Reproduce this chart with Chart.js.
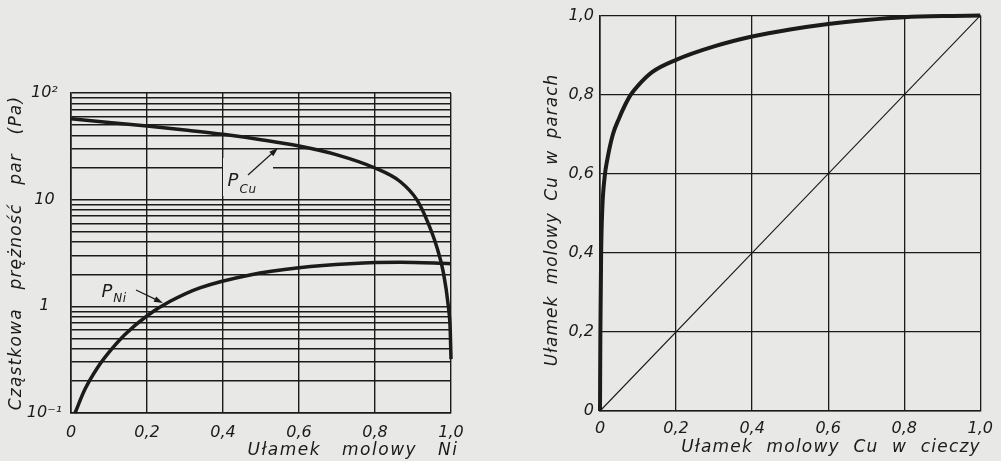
<!DOCTYPE html>
<html>
<head>
<meta charset="utf-8">
<script src="https://cdn.jsdelivr.net/npm/chart.js@4/dist/chart.umd.min.js"></script>
<style>
html, body { margin: 0; padding: 0; background: #e8e8e6; }
#wrap { position: relative; width: 1001px; height: 461px; overflow: hidden; }
#left { position: absolute; left: 0; top: 0; width: 500px; height: 461px; }
#right { position: absolute; left: 500px; top: 0; width: 501px; height: 461px; }
</style>
</head>
<body>
<div id="wrap">
  <canvas id="left" width="500" height="461"></canvas>
  <canvas id="right" width="501" height="461"></canvas>
</div>
<script>
// lewy wykres: cząstkowa prężność par nad stopem Cu-Ni
var xCu = [0, 0.1, 0.2, 0.3, 0.4, 0.5, 0.6, 0.7, 0.8, 0.866, 0.91, 0.936, 0.962, 0.98, 0.993, 0.998, 1.0];
var pCu = [57.5, 53, 49, 45, 41, 36.5, 31.8, 26.3, 19.8, 14.8, 10, 6.5, 3.66, 2.07, 1.0, 0.6, 0.32];
var xNi = [0.0105, 0.037, 0.071, 0.103, 0.142, 0.203, 0.261, 0.339, 0.471, 0.6, 0.734, 0.866, 1.0];
var pNi = [0.1, 0.1675, 0.27, 0.382, 0.545, 0.83, 1.114, 1.49, 1.97, 2.30, 2.51, 2.59, 2.51];

// prawy wykres: skład par w funkcji składu cieczy
var cuLiquid = [0, 0.001, 0.003, 0.006, 0.012, 0.02, 0.034, 0.05, 0.065, 0.081, 0.1, 0.137, 0.2, 0.3, 0.4, 0.5, 0.6, 0.7, 0.8, 0.9, 1.0];
var cuVapour = [0, 0.2, 0.40, 0.51, 0.59, 0.64, 0.70, 0.74, 0.772, 0.80, 0.823, 0.857, 0.888, 0.922, 0.947, 0.965, 0.979, 0.989, 0.996, 0.999, 1.0];
var diagX = [0, 1];
var diagY = [0, 1];

// osie
var fracTicks = [0, 0.2, 0.4, 0.6, 0.8, 1.0];
var logTicks = [0.1, 0.2, 0.3, 0.4, 0.5, 0.6, 0.7, 0.8, 0.9,
                1, 2, 3, 4, 5, 6, 7, 8, 9,
                10, 20, 30, 40, 50, 60, 70, 80, 90, 100];
var logLabelValues = [0.1, 1, 10, 100];
var logLabelTexts = ['10\u207B\u00B9', '1', '10', '10\u00B2'];

var ink = '#1b1b1b';
var paper = '#e8e8e6';
var fontFamily = '"DejaVu Sans", sans-serif';
var tickFont = { family: fontFamily, size: 16, style: 'italic' };

function pts(xs, ys) {
    return xs.map(function (x, i) { return { x: x, y: ys[i] }; });
}

function fracLabel(v) {
    if (Math.abs(v) < 1e-9) return '0';
    return v.toFixed(1).replace('.', ',');
}

function logLabel(v) {
    for (var i = 0; i < logLabelValues.length; i++) {
        if (Math.abs(v - logLabelValues[i]) < 1e-9) return logLabelTexts[i];
    }
    return '';
}

function curve(data, width) {
    return {
        data: data,
        showLine: true,
        borderColor: ink,
        borderWidth: width,
        pointRadius: 0,
        cubicInterpolationMode: 'monotone',
        fill: false,
        clip: 4
    };
}

function say(ctx, s, x, y, size, rot, ls, ws) {
    ctx.save();
    ctx.translate(x, y);
    if (rot) ctx.rotate(rot);
    ctx.font = 'italic ' + size + 'px ' + fontFamily;
    ctx.fillStyle = ink;
    ctx.textAlign = 'center';
    ctx.textBaseline = 'middle';
    ctx.letterSpacing = (ls || 0) + 'px';
    ctx.wordSpacing = (ws || 0) + 'px';
    ctx.fillText(s, 0, 0);
    ctx.restore();
}

function arrow(ctx, x0, y0, x1, y1) {
    var a = Math.atan2(y1 - y0, x1 - x0);
    ctx.save();
    ctx.strokeStyle = ink;
    ctx.fillStyle = ink;
    ctx.lineWidth = 1.2;
    ctx.beginPath();
    ctx.moveTo(x0, y0);
    ctx.lineTo(x1 - 6 * Math.cos(a), y1 - 6 * Math.sin(a));
    ctx.stroke();
    ctx.beginPath();
    ctx.moveTo(x1, y1);
    ctx.lineTo(x1 - 9 * Math.cos(a) + 3 * Math.sin(a), y1 - 9 * Math.sin(a) - 3 * Math.cos(a));
    ctx.lineTo(x1 - 9 * Math.cos(a) - 3 * Math.sin(a), y1 - 9 * Math.sin(a) + 3 * Math.cos(a));
    ctx.closePath();
    ctx.fill();
    ctx.restore();
}

var leftText = {
    id: 'leftText',
    beforeDatasetsDraw: function (chart) {
        // przerwa w siatce pod napisem P_Cu
        var ctx = chart.ctx;
        ctx.save();
        ctx.fillStyle = paper;
        ctx.fillRect(223, 158, 50, 38);
        ctx.restore();
    },
    afterDraw: function (chart) {
        var ctx = chart.ctx;
        say(ctx, 'Cząstkowa prężność par (Pa)', 17, 253, 17, -Math.PI / 2, 1.2, 12);
        say(ctx, 'Ułamek molowy Ni', 353, 451, 17, 0, 1.5, 14);
        say(ctx, 'P', 233, 181, 18);
        say(ctx, 'Cu', 248, 190, 12, 0, 0.5);
        arrow(ctx, 248, 175, 278, 148);
        say(ctx, 'P', 107, 292, 18);
        say(ctx, 'Ni', 120, 299, 12, 0, 0.5);
        arrow(ctx, 136, 290, 163, 303);
    }
};

var rightText = {
    id: 'rightText',
    afterDraw: function (chart) {
        var ctx = chart.ctx;
        say(ctx, 'Ułamek molowy Cu w parach', 53, 220, 17, -Math.PI / 2, 1, 5);
        say(ctx, 'Ułamek molowy Cu w cieczy', 331, 448, 17, 0, 1.2, 7);
    }
};

new Chart(document.getElementById('left').getContext('2d'), {
    type: 'scatter',
    data: {
        datasets: [curve(pts(xCu, pCu), 3.5), curve(pts(xNi, pNi), 3.5)]
    },
    options: {
        responsive: false,
        animation: false,
        layout: { padding: { left: 0, top: 93, right: 49, bottom: 0 } },
        plugins: { legend: { display: false }, tooltip: { enabled: false } },
        scales: {
            x: {
                type: 'linear', min: 0, max: 1,
                afterBuildTicks: function (s) { s.ticks = fracTicks.map(function (v) { return { value: v }; }); },
                afterFit: function (s) { s.height = 48; },
                grid: { color: ink, lineWidth: 1.4, drawTicks: false },
                border: { color: ink, width: 1.6 },
                ticks: { callback: fracLabel, font: tickFont, color: ink, padding: 10, maxRotation: 0, autoSkip: false }
            },
            y: {
                type: 'logarithmic', min: 0.1, max: 100,
                afterBuildTicks: function (s) { s.ticks = logTicks.map(function (v) { return { value: v }; }); },
                afterFit: function (s) { s.width = 71; },
                grid: { color: ink, lineWidth: 1.4, drawTicks: false },
                border: { color: ink, width: 1.6 },
                ticks: { callback: logLabel, font: tickFont, color: ink, padding: 9, crossAlign: 'center', autoSkip: false }
            }
        }
    },
    plugins: [leftText]
});

new Chart(document.getElementById('right').getContext('2d'), {
    type: 'scatter',
    data: {
        datasets: [curve(pts(cuLiquid, cuVapour), 4), curve(pts(diagX, diagY), 1.1)]
    },
    options: {
        responsive: false,
        animation: false,
        layout: { padding: { left: 0, top: 15, right: 11, bottom: 0 } },
        plugins: { legend: { display: false }, tooltip: { enabled: false } },
        scales: {
            x: {
                type: 'linear', min: 0, max: 1,
                afterBuildTicks: function (s) { s.ticks = fracTicks.map(function (v) { return { value: v }; }); },
                afterFit: function (s) { s.height = 50; },
                grid: { color: ink, lineWidth: 1.3, drawTicks: false },
                border: { color: ink, width: 1.6 },
                ticks: { callback: fracLabel, font: tickFont, color: ink, padding: 8, maxRotation: 0, autoSkip: false }
            },
            y: {
                type: 'linear', min: 0, max: 1,
                afterBuildTicks: function (s) { s.ticks = fracTicks.map(function (v) { return { value: v }; }); },
                afterFit: function (s) { s.width = 100; },
                grid: { color: ink, lineWidth: 1.3, drawTicks: false },
                border: { color: ink, width: 1.6 },
                ticks: { callback: fracLabel, font: tickFont, color: ink, padding: 6, autoSkip: false }
            }
        }
    },
    plugins: [rightText]
});
</script>
</body>
</html>
